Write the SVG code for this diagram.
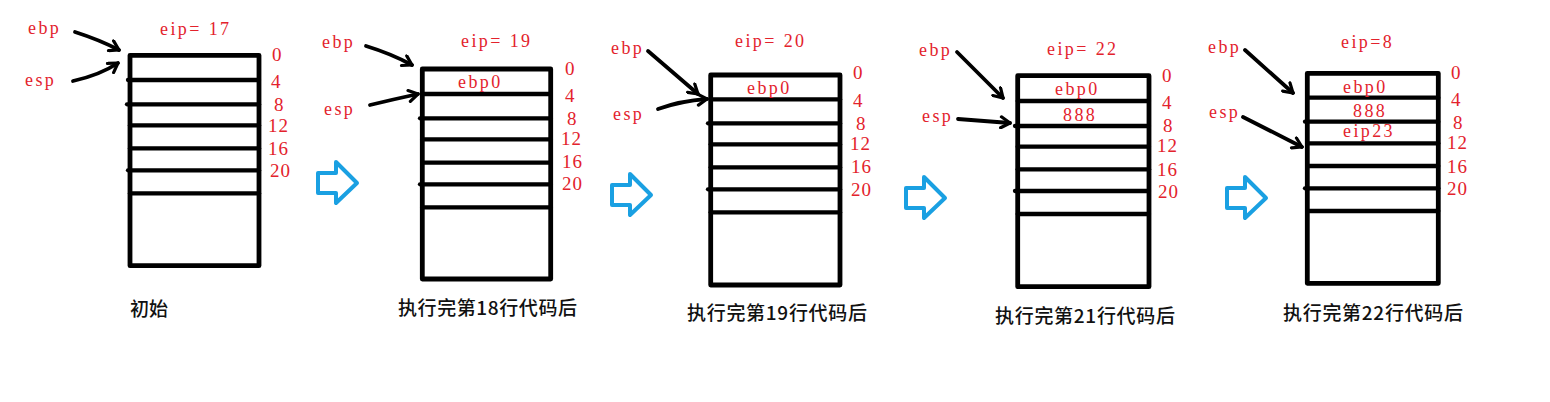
<svg xmlns="http://www.w3.org/2000/svg" width="1550" height="402" viewBox="0 0 1550 402">
<style>
.box{fill:none;stroke:#000;stroke-width:4.8;stroke-linejoin:round}
.ln{stroke:#000;stroke-width:4.3;stroke-linecap:round}
.r{font-family:"Liberation Serif",serif;font-size:18px;letter-spacing:2.4px;fill:#e3222c}
.n{font-family:"Liberation Serif",serif;font-size:19px;letter-spacing:1px;fill:#e3222c}
.cap{font-family:"Noto Sans CJK SC",sans-serif;font-size:19px;font-weight:500;fill:#111}
.ptr{fill:none;stroke:#000;stroke-width:3.8;stroke-linecap:round;marker-end:url(#ah)}
.step{fill:#fff;stroke:#1aa0e2;stroke-width:4;stroke-linejoin:round}
</style>
<defs>
<marker id="ah" viewBox="0 0 14 14" refX="11" refY="7" markerWidth="14" markerHeight="14" markerUnits="userSpaceOnUse" orient="auto">
<path d="M2,1.5 L11,7 L2,12.5" fill="none" stroke="#000" stroke-width="3.2" stroke-linecap="round" stroke-linejoin="round"/>
</marker>
<path id="blk" d="M2,13 H20 V2 L41,23 L20,43 V33 H2 Z"/>
</defs>
<rect width="1550" height="402" fill="#fff"/>

<g id="stack1">
<rect class="box" x="130" y="55.3" width="129" height="210.4"/>
<line class="ln" x1="128" y1="80" x2="259" y2="80"/>
<line class="ln" x1="127" y1="104.3" x2="259" y2="104.3"/>
<line class="ln" x1="130" y1="125.3" x2="259" y2="125.3"/>
<line class="ln" x1="130" y1="148.3" x2="259" y2="148.3"/>
<line class="ln" x1="128" y1="170.3" x2="259" y2="170.3"/>
<line class="ln" x1="130" y1="193.3" x2="259" y2="193.3"/>
<text class="n" x="272" y="61">0</text>
<text class="n" x="271" y="88">4</text>
<text class="n" x="274" y="111">8</text>
<text class="n" x="268" y="132">12</text>
<text class="n" x="268" y="155">16</text>
<text class="n" x="270" y="177">20</text>
<text class="r" x="28" y="34">ebp</text>
<text class="r" x="25" y="86">esp</text>
<text class="r" x="160" y="35">eip= 17</text>
<text class="cap" x="130" y="316">初始</text>
</g>

<g id="stack2">
<rect class="box" x="422.3" y="69" width="128.4" height="210"/>
<line class="ln" x1="422.3" y1="94" x2="550.7" y2="94"/>
<line class="ln" x1="420" y1="118.3" x2="550.7" y2="118.3"/>
<line class="ln" x1="422.3" y1="139.3" x2="550.7" y2="139.3"/>
<line class="ln" x1="422.3" y1="162.7" x2="550.7" y2="162.7"/>
<line class="ln" x1="420" y1="184.3" x2="550.7" y2="184.3"/>
<line class="ln" x1="422.3" y1="207.3" x2="550.7" y2="207.3"/>
<text class="n" x="565" y="75">0</text>
<text class="n" x="565" y="102">4</text>
<text class="n" x="567" y="125">8</text>
<text class="n" x="561" y="145">12</text>
<text class="n" x="562" y="168">16</text>
<text class="n" x="562" y="190">20</text>
<text class="r" x="322" y="48">ebp</text>
<text class="r" x="324" y="115">esp</text>
<text class="r" x="461" y="47">eip= 19</text>
<text class="r" x="458" y="88">ebp0</text>
<text class="cap" x="398" y="315" textLength="179" lengthAdjust="spacing">执行完第18行代码后</text>
</g>

<g id="stack3">
<rect class="box" x="710.7" y="75" width="129.3" height="210"/>
<line class="ln" x1="710.7" y1="99.3" x2="840" y2="99.3"/>
<line class="ln" x1="708" y1="123.3" x2="840" y2="123.3"/>
<line class="ln" x1="710.7" y1="144.3" x2="840" y2="144.3"/>
<line class="ln" x1="710.7" y1="167.3" x2="840" y2="167.3"/>
<line class="ln" x1="708" y1="189.3" x2="840" y2="189.3"/>
<line class="ln" x1="710.7" y1="212.3" x2="840" y2="212.3"/>
<text class="n" x="853" y="79">0</text>
<text class="n" x="853" y="107">4</text>
<text class="n" x="856" y="130">8</text>
<text class="n" x="850" y="150">12</text>
<text class="n" x="851" y="173">16</text>
<text class="n" x="851" y="196">20</text>
<text class="r" x="611" y="54">ebp</text>
<text class="r" x="613" y="120">esp</text>
<text class="r" x="735" y="47">eip= 20</text>
<text class="r" x="747" y="94">ebp0</text>
<text class="cap" x="687" y="320" textLength="180" lengthAdjust="spacing">执行完第19行代码后</text>
</g>

<g id="stack4">
<rect class="box" x="1017.7" y="75.7" width="131.3" height="211"/>
<line class="ln" x1="1017.7" y1="101" x2="1149" y2="101"/>
<line class="ln" x1="1015" y1="126" x2="1149" y2="126"/>
<line class="ln" x1="1017.7" y1="146.7" x2="1149" y2="146.7"/>
<line class="ln" x1="1017.7" y1="169.3" x2="1149" y2="169.3"/>
<line class="ln" x1="1015" y1="191" x2="1149" y2="191"/>
<line class="ln" x1="1017.7" y1="214" x2="1149" y2="214"/>
<text class="n" x="1162" y="82">0</text>
<text class="n" x="1162" y="109">4</text>
<text class="n" x="1163" y="132">8</text>
<text class="n" x="1157" y="152">12</text>
<text class="n" x="1157" y="176">16</text>
<text class="n" x="1158" y="198">20</text>
<text class="r" x="919" y="56">ebp</text>
<text class="r" x="922" y="122">esp</text>
<text class="r" x="1047" y="55">eip= 22</text>
<text class="r" x="1055" y="95">ebp0</text>
<text class="r" x="1063" y="121">888</text>
<text class="cap" x="995" y="323" textLength="180" lengthAdjust="spacing">执行完第21行代码后</text>
</g>

<g id="stack5">
<rect class="box" x="1307.3" y="73.3" width="131" height="210"/>
<line class="ln" x1="1307.3" y1="97.7" x2="1438.3" y2="97.7"/>
<line class="ln" x1="1305" y1="121.7" x2="1438.3" y2="121.7"/>
<line class="ln" x1="1307.3" y1="143.3" x2="1438.3" y2="143.3"/>
<line class="ln" x1="1307.3" y1="166" x2="1438.3" y2="166"/>
<line class="ln" x1="1305" y1="188.3" x2="1438.3" y2="188.3"/>
<line class="ln" x1="1307.3" y1="211" x2="1438.3" y2="211"/>
<text class="n" x="1451" y="79">0</text>
<text class="n" x="1451" y="106">4</text>
<text class="n" x="1453" y="129">8</text>
<text class="n" x="1447" y="149">12</text>
<text class="n" x="1447" y="173">16</text>
<text class="n" x="1447" y="195">20</text>
<text class="r" x="1208" y="53">ebp</text>
<text class="r" x="1209" y="118">esp</text>
<text class="r" x="1341" y="48">eip=8</text>
<text class="r" x="1343" y="93">ebp0</text>
<text class="r" x="1353" y="117">888</text>
<text class="r" x="1343" y="137">eip23</text>
<text class="cap" x="1283" y="320" textLength="180" lengthAdjust="spacing">执行完第22行代码后</text>
</g>

<g id="connectors">
<path class="ptr" d="M75,32 Q100,40 119,50"/>
<path class="ptr" d="M73,81 Q100,75 118,63"/>
<path class="ptr" d="M366,46 Q392,54 412,65"/>
<path class="ptr" d="M370,105 Q395,99 418,94"/>
<path class="ptr" d="M648,51 L698,94"/>
<path class="ptr" d="M658,109 Q680,101 707,99"/>
<path class="ptr" d="M957,52 L1003,98"/>
<path class="ptr" d="M958,119 L1010,123"/>
<path class="ptr" d="M1245,50 L1293,93"/>
<path class="ptr" d="M1243,117 L1302,147"/>
<use href="#blk" class="step" transform="translate(316,160)"/>
<use href="#blk" class="step" transform="translate(610,172)"/>
<use href="#blk" class="step" transform="translate(904,175)"/>
<use href="#blk" class="step" transform="translate(1225,175)"/>
</g>
</svg>
